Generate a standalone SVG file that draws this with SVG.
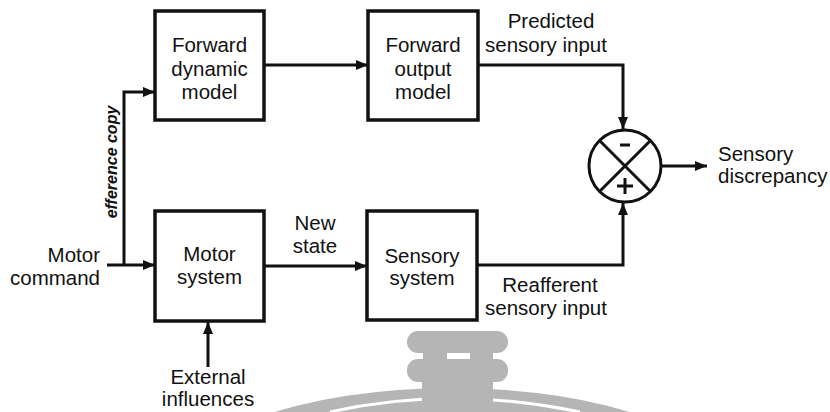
<svg xmlns="http://www.w3.org/2000/svg" width="830" height="412" viewBox="0 0 830 412">
<style>
  .box { fill: #fff; stroke: #111; stroke-width: 3.5; }
  .ln { fill: none; stroke: #111; stroke-width: 3; }
  .t { font-family: "Liberation Sans", Arial, sans-serif; font-size: 20.5px; fill: #111; text-anchor: middle; }
  .wm { fill: #b5b5b5; }
</style>
<defs>
  <marker id="ah" viewBox="0 0 12 10" refX="12" refY="5" markerWidth="12" markerHeight="10" markerUnits="userSpaceOnUse" orient="auto">
    <path d="M0,0 L12,5 L0,10 z" fill="#111"/>
  </marker>
</defs>
<rect width="830" height="412" fill="#fff"/>

<!-- watermark -->
<g id="watermark">
  <ellipse class="wm" cx="452" cy="490" rx="275" ry="102"/>
  <path d="M330,412 Q450,385 580,412" fill="none" stroke="#fff" stroke-width="3"/>
  <rect class="wm" x="422" y="380" width="71" height="32"/>
  <rect class="wm" x="407" y="331" width="101" height="22" rx="11"/>
  <rect class="wm" x="407" y="359" width="101" height="23" rx="11"/>
  <rect class="wm" x="423" y="350" width="24" height="12"/>
  <rect class="wm" x="470" y="350" width="23" height="12"/>
</g>

<g id="connectors">
  <line class="ln" x1="264" y1="65" x2="368" y2="65" marker-end="url(#ah)"/>
  <polyline class="ln" points="478,65 623,65 623,129" marker-end="url(#ah)"/>
  <polyline class="ln" points="477,265 623,265 623,203" marker-end="url(#ah)"/>
  <line class="ln" x1="661" y1="166" x2="707" y2="166" marker-end="url(#ah)"/>
  <line class="ln" x1="264" y1="266" x2="367" y2="266" marker-end="url(#ah)"/>
  <line class="ln" x1="107" y1="265" x2="155" y2="265" marker-end="url(#ah)"/>
  <polyline class="ln" points="124,265 124,92 155,92" marker-end="url(#ah)"/>
  <line class="ln" x1="208" y1="367" x2="208" y2="322" marker-end="url(#ah)"/>
</g>

<g id="forward-dynamic-model">
  <rect class="box" x="155" y="11" width="109" height="109"/>
  <text class="t" x="209.5" y="52">Forward</text>
  <text class="t" x="209.5" y="76">dynamic</text>
  <text class="t" x="209.5" y="99">model</text>
</g>

<g id="forward-output-model">
  <rect class="box" x="368" y="11" width="110" height="109"/>
  <text class="t" x="423" y="52">Forward</text>
  <text class="t" x="423" y="76">output</text>
  <text class="t" x="423" y="99">model</text>
</g>

<g id="motor-system">
  <rect class="box" x="155" y="211" width="109" height="110"/>
  <text class="t" x="209.5" y="261">Motor</text>
  <text class="t" x="209.5" y="284">system</text>
</g>

<g id="sensory-system">
  <rect class="box" x="367" y="211" width="110" height="109"/>
  <text class="t" x="422" y="263">Sensory</text>
  <text class="t" x="422" y="285">system</text>
</g>

<g id="comparator">
  <circle cx="625" cy="166" r="36" fill="#fff" stroke="#111" stroke-width="3"/>
  <line class="ln" x1="599.5" y1="140.5" x2="650.5" y2="191.5"/>
  <line class="ln" x1="650.5" y1="140.5" x2="599.5" y2="191.5"/>
  <line x1="620" y1="145" x2="630" y2="145" stroke="#111" stroke-width="3"/>
  <line x1="617" y1="186" x2="633" y2="186" stroke="#111" stroke-width="3"/>
  <line x1="625" y1="178" x2="625" y2="194" stroke="#111" stroke-width="3"/>
</g>

<g id="labels">
  <text class="t" x="551" y="28">Predicted</text>
  <text class="t" x="546" y="52">sensory input</text>
  <text class="t" x="550" y="292">Reafferent</text>
  <text class="t" x="546" y="315">sensory input</text>
  <text class="t" x="315" y="230">New</text>
  <text class="t" x="315" y="253">state</text>
  <text class="t" x="100" y="262" style="text-anchor:end">Motor</text>
  <text class="t" x="100" y="285" style="text-anchor:end">command</text>
  <text class="t" x="208" y="384">External</text>
  <text class="t" x="208" y="406">influences</text>
  <text class="t" x="718" y="161" style="text-anchor:start">Sensory</text>
  <text class="t" x="718" y="183" style="text-anchor:start">discrepancy</text>
  <text class="t" transform="translate(117,162) rotate(-90)" style="font-size:16px;font-weight:bold;font-style:italic">efference copy</text>
</g>
</svg>
